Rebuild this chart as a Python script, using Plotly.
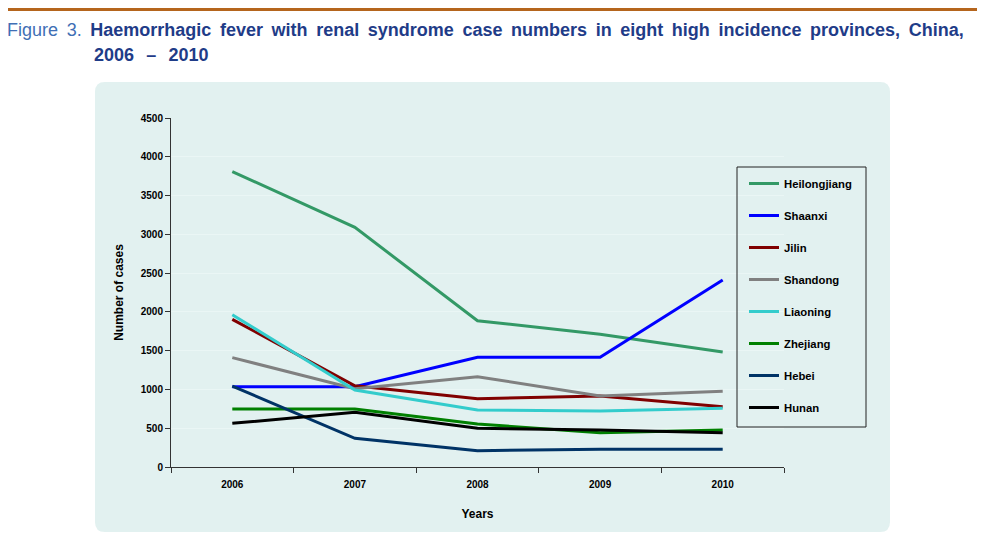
import plotly.graph_objects as go

years = ["2006", "2007", "2008", "2009", "2010"]
heilongjiang = [3810, 3090, 1886, 1711, 1483]
shaanxi = [1035, 1035, 1414, 1414, 2411]
jilin = [1904, 1048, 881, 915, 778]
shandong = [1410, 1010, 1165, 915, 976]
liaoning = [1964, 993, 735, 722, 757]
zhejiang = [748, 748, 554, 443, 477]
hebei = [1044, 370, 210, 228, 228]
hunan = [563, 705, 499, 477, 443]

series = [
    ("Heilongjiang", heilongjiang, "#339966"),
    ("Shaanxi", shaanxi, "#0000ff"),
    ("Jilin", jilin, "#800000"),
    ("Shandong", shandong, "#808080"),
    ("Liaoning", liaoning, "#33cccc"),
    ("Zhejiang", zhejiang, "#008000"),
    ("Hebei", hebei, "#003366"),
    ("Hunan", hunan, "#000000"),
]

fig = go.Figure()
for name, vals, col in series:
    fig.add_trace(go.Scatter(x=years, y=vals, name=name, mode="lines",
                             line=dict(color=col, width=3), legendgroup=name))

panel_bg = "#e2f1f0"
font_main = "Liberation Sans, Arial, sans-serif"
title_font = "Liberation Sans, Arial, sans-serif"

OFF = 8  # page body offset
W, H = 985 - OFF, 538 - OFF
L, R, T, B = 171 - OFF, 784 - OFF, 118 - OFF, 467 - OFF

def px(x):
    return (x - OFF - L) / (R - L)
def py(y):
    return (B - (y - OFF)) / (B - T)

fig.update_layout(
    width=W, height=H, autosize=False,
    margin=dict(l=L, r=W - R, t=T, b=H - B, autoexpand=False),
    paper_bgcolor="white", plot_bgcolor=panel_bg,
    showlegend=True,
    legend=dict(x=px(744), xref="paper", y=py(169), yref="paper",
                xanchor="left", yanchor="top",
                bgcolor="rgba(0,0,0,0)", borderwidth=0,
                font=dict(family=font_main, size=11.3, color="#000000", weight="bold"),
                tracegroupgap=13, itemwidth=30),
    xaxis=dict(type="category", range=[-0.5, 4.5], showgrid=False, automargin=False,
               showline=True, linecolor="#333333", linewidth=1,
               ticks="outside", tickson="boundaries", ticklen=5, tickcolor="#333333",
               ticklabelstandoff=8,
               tickfont=dict(family=font_main, size=10, color="#000", weight="bold"),
               title=dict(text="Years", standoff=20,
                          font=dict(family=font_main, size=12, color="#000", weight="bold"))),
    yaxis=dict(range=[0, 4500], dtick=500, showgrid=True, gridcolor="#eaf6f5", automargin=False,
               showline=True, linecolor="#333333", linewidth=1, zeroline=False,
               ticks="outside", ticklen=5, tickcolor="#333333",
               tickfont=dict(family=font_main, size=10, color="#000", weight="bold"),
               title=dict(text="Number of cases", standoff=14,
                          font=dict(family=font_main, size=12, color="#000", weight="bold"))),
)

# background rounded panel
x0, x1, y0, y1, r = 95, 890, 82, 532, 10
pts = [("M", [(x0 + r, y0)]), ("L", [(x1 - r, y0)]), ("Q", [(x1, y0), (x1, y0 + r)]),
       ("L", [(x1, y1 - r)]), ("Q", [(x1, y1), (x1 - r, y1)]), ("L", [(x0 + r, y1)]),
       ("Q", [(x0, y1), (x0, y1 - r)]), ("L", [(x0, y0 + r)]), ("Q", [(x0, y0), (x0 + r, y0)])]
path = " ".join(cmd + " " + " ".join(f"{px(a):.5f},{py(b):.5f}" for a, b in p) for cmd, p in pts) + " Z"
fig.add_shape(type="path", path=path, xref="paper", yref="paper",
              fillcolor=panel_bg, line=dict(width=0), layer="below")
# legend frame
fig.add_shape(type="rect", x0=px(737), x1=px(866), y0=py(167), y1=py(427),
              xref="paper", yref="paper", line=dict(color="#222222", width=1),
              fillcolor="rgba(0,0,0,0)", layer="above")
# top orange rule
fig.add_shape(type="line", x0=px(OFF), x1=px(980), y0=py(9.5), y1=py(9.5),
              xref="paper", yref="paper", line=dict(color="#b5651d", width=3))

SP = " \u2009"
line1_words = "Haemorrhagic fever with renal syndrome case numbers in eight high incidence provinces, China,".split(" ")
fig.add_annotation(x=px(5), y=py(30), xref="paper", yref="paper", xanchor="left", yanchor="middle",
                   showarrow=False, align="left",
                   text="<span style='color:#3f6fb5'>Figure" + SP + "3.</span>" + SP + "<b>" + SP.join(line1_words) + "</b>",
                   font=dict(family=title_font, size=18, color="#1f3c88"))
fig.add_annotation(x=px(92), y=py(55), xref="paper", yref="paper", xanchor="left", yanchor="middle",
                   showarrow=False, align="left",
                   text="<b>2006" + SP + "\u2009–\u2009" + SP + "2010</b>",
                   font=dict(family=title_font, size=18, color="#1f3c88"))

fig.write_html("out.html")
